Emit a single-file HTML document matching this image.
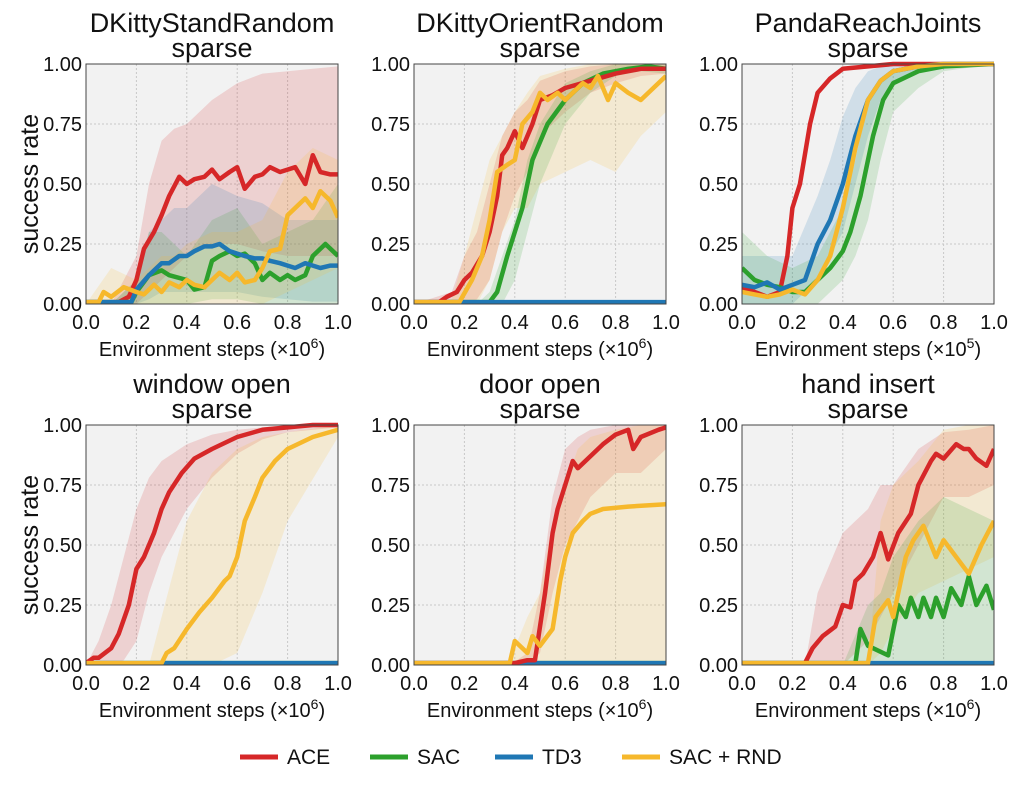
<!DOCTYPE html>
<html><head><meta charset="utf-8"><style>
body{margin:0;background:#fff}
svg text{font-family:"Liberation Sans","DejaVu Sans",sans-serif;fill:#111}
</style></head><body>
<svg id="c" width="1025" height="789" xmlns="http://www.w3.org/2000/svg"></svg>
<script>
const NS="http://www.w3.org/2000/svg";
const COLORS={ACE:"#d62728",SAC:"#2ca02c",TD3:"#1f77b4",RND:"#f6b82c"};
const titles=[["DKittyStandRandom","sparse"],["DKittyOrientRandom","sparse"],["PandaReachJoints","sparse"],["window open","sparse"],["door open","sparse"],["hand insert","sparse"]];
const xlabelExp=["6","6","5","6","6","6"];
const xTicks=[0,0.2,0.4,0.6,0.8,1.0];
const xTickLabels=["0.0","0.2","0.4","0.6","0.8","1.0"];
const yTicks=[0,0.25,0.5,0.75,1.0];
const yTickLabels=["0.00","0.25","0.50","0.75","1.00"];

// panel 1
const p1_ace_x=[0,0.05,0.1,0.13,0.17,0.2,0.23,0.27,0.3,0.33,0.37,0.4,0.43,0.47,0.5,0.53,0.57,0.6,0.63,0.67,0.7,0.73,0.77,0.8,0.83,0.87,0.9,0.93,0.97,1.0];
const p1_ace_y=[0,0,0,0,0.03,0.1,0.23,0.3,0.37,0.45,0.53,0.5,0.52,0.53,0.56,0.52,0.55,0.57,0.48,0.53,0.54,0.57,0.55,0.56,0.57,0.5,0.62,0.55,0.54,0.54];
const p1_sac_x=[0,0.18,0.2,0.25,0.3,0.33,0.4,0.43,0.47,0.5,0.53,0.57,0.6,0.63,0.67,0.7,0.73,0.77,0.8,0.83,0.87,0.9,0.95,1.0];
const p1_sac_y=[0,0,0.05,0.12,0.14,0.12,0.1,0.06,0.07,0.18,0.2,0.22,0.2,0.21,0.17,0.1,0.13,0.1,0.12,0.1,0.12,0.2,0.25,0.2];
const p1_td3_x=[0,0.18,0.2,0.25,0.3,0.33,0.37,0.4,0.43,0.47,0.5,0.53,0.57,0.6,0.63,0.67,0.7,0.73,0.77,0.8,0.83,0.87,0.9,0.93,0.97,1.0];
const p1_td3_y=[0,0,0.06,0.12,0.17,0.17,0.2,0.2,0.22,0.24,0.24,0.25,0.22,0.21,0.2,0.19,0.19,0.18,0.17,0.16,0.15,0.17,0.16,0.15,0.16,0.16];
const p1_rnd_x=[0,0.05,0.07,0.1,0.15,0.2,0.23,0.27,0.3,0.33,0.37,0.4,0.43,0.47,0.5,0.53,0.57,0.6,0.63,0.67,0.7,0.73,0.77,0.8,0.83,0.87,0.9,0.93,0.97,1.0];
const p1_rnd_y=[0,0,0.05,0.03,0.07,0.05,0.04,0.08,0.05,0.09,0.07,0.1,0.08,0.07,0.1,0.13,0.1,0.13,0.09,0.1,0.15,0.22,0.23,0.37,0.4,0.44,0.4,0.47,0.43,0.36];
const p1_bx=[0,0.1,0.2,0.25,0.3,0.35,0.4,0.5,0.6,0.7,0.8,0.9,1.0];
const p1_ace_lo=[0,0,0,0.05,0.1,0.15,0.2,0.25,0.25,0.22,0.2,0.2,0.2];
const p1_ace_hi=[0,0,0.2,0.5,0.68,0.73,0.75,0.85,0.92,0.96,0.97,0.98,0.99];
const p1_td3_lo=[0,0,0,0.02,0.05,0.05,0.05,0.05,0.05,0.03,0.02,0.01,0.01];
const p1_td3_hi=[0,0,0.1,0.3,0.35,0.4,0.4,0.5,0.45,0.42,0.35,0.35,0.35];
const p1_sac_lo=[0,0,0,0,0,0,0,0.02,0.02,0,0,0,0];
const p1_sac_hi=[0,0,0.1,0.3,0.3,0.25,0.2,0.35,0.4,0.25,0.3,0.35,0.5];
const p1_rnd_lo=[0,0,0,0,0,0,0,0,0,0,0.05,0.1,0.15];
const p1_rnd_hi=[0,0.15,0.1,0.15,0.2,0.2,0.25,0.3,0.3,0.35,0.55,0.65,0.6];
// panel 2
const p2_ace_x=[0,0.1,0.13,0.17,0.2,0.23,0.27,0.3,0.33,0.35,0.37,0.4,0.43,0.47,0.5,0.55,0.6,0.7,0.8,0.9,1.0];
const p2_ace_y=[0,0,0.03,0.05,0.1,0.13,0.2,0.3,0.45,0.62,0.65,0.72,0.65,0.75,0.85,0.87,0.9,0.93,0.96,0.98,0.98];
const p2_sac_x=[0,0.3,0.33,0.37,0.43,0.47,0.53,0.6,0.67,0.75,0.85,0.93,1.0];
const p2_sac_y=[0,0,0.05,0.2,0.4,0.6,0.75,0.85,0.92,0.96,0.98,0.99,0.98];
const p2_td3_x=[0,1.0];
const p2_td3_y=[0,0];
const p2_rnd_x=[0,0.18,0.23,0.27,0.3,0.33,0.37,0.4,0.43,0.47,0.5,0.53,0.57,0.6,0.63,0.67,0.7,0.73,0.77,0.8,0.85,0.9,0.95,1.0];
const p2_rnd_y=[0,0,0.1,0.2,0.35,0.55,0.58,0.6,0.75,0.8,0.88,0.85,0.88,0.85,0.88,0.92,0.9,0.95,0.85,0.92,0.88,0.85,0.9,0.95];
const p2_bx=[0,0.15,0.2,0.25,0.3,0.35,0.4,0.45,0.5,0.6,0.7,0.8,0.9,1.0];
const p2_ace_lo=[0,0,0,0.02,0.1,0.3,0.45,0.55,0.7,0.8,0.88,0.92,0.95,0.96];
const p2_ace_hi=[0,0.05,0.2,0.3,0.5,0.7,0.8,0.85,0.93,0.97,0.99,1,1,1];
const p2_rnd_lo=[0,0,0,0,0.1,0.3,0.4,0.4,0.5,0.55,0.6,0.55,0.7,0.8];
const p2_rnd_hi=[0,0.02,0.2,0.4,0.6,0.7,0.8,0.88,0.95,0.98,1,1,1,1];
const p2_sac_lo=[0,0,0,0,0,0,0.1,0.3,0.5,0.75,0.88,0.95,0.97,0.96];
const p2_sac_hi=[0,0,0,0,0.05,0.2,0.35,0.6,0.75,0.92,0.97,1,1,1];
// panel 3
const p3_ace_x=[0,0.05,0.1,0.15,0.18,0.2,0.23,0.27,0.3,0.35,0.4,0.5,0.6,1.0];
const p3_ace_y=[0.07,0.05,0.03,0.05,0.2,0.4,0.5,0.75,0.88,0.94,0.98,0.99,1,1];
const p3_sac_x=[0,0.05,0.1,0.15,0.2,0.25,0.3,0.35,0.4,0.43,0.47,0.52,0.56,0.6,0.7,0.8,1.0];
const p3_sac_y=[0.15,0.1,0.08,0.07,0.05,0.05,0.1,0.15,0.22,0.3,0.45,0.7,0.85,0.92,0.97,0.99,1];
const p3_td3_x=[0,0.05,0.1,0.15,0.2,0.25,0.3,0.35,0.4,0.45,0.5,0.55,0.6,0.7,0.8,1.0];
const p3_td3_y=[0.08,0.07,0.09,0.06,0.08,0.1,0.25,0.35,0.5,0.7,0.85,0.93,0.97,0.99,1,1];
const p3_rnd_x=[0,0.05,0.1,0.15,0.2,0.25,0.3,0.35,0.4,0.45,0.5,0.55,0.6,0.7,0.8,1.0];
const p3_rnd_y=[0.05,0.04,0.03,0.04,0.06,0.04,0.1,0.2,0.4,0.65,0.85,0.93,0.97,0.99,1,1];
const p3_bx=[0,0.1,0.2,0.3,0.35,0.4,0.45,0.5,0.55,0.6,0.7,0.8,1.0];
const p3_td3_lo=[0,0,0,0.1,0.2,0.3,0.5,0.7,0.85,0.92,0.97,0.99,1];
const p3_td3_hi=[0.2,0.2,0.2,0.45,0.6,0.78,0.9,0.97,0.99,1,1,1,1];
const p3_sac_lo=[0,0,0,0,0.05,0.1,0.2,0.35,0.6,0.8,0.9,0.97,1];
const p3_sac_hi=[0.3,0.2,0.15,0.2,0.3,0.4,0.6,0.85,0.93,0.97,1,1,1];
// panel 4
const p4_ace_x=[0,0.03,0.05,0.1,0.13,0.17,0.2,0.23,0.27,0.3,0.33,0.38,0.43,0.5,0.6,0.7,0.8,0.9,1.0];
const p4_ace_y=[0,0.03,0.03,0.07,0.13,0.25,0.4,0.45,0.55,0.65,0.72,0.8,0.86,0.9,0.95,0.98,0.99,1,1];
const p4_rnd_x=[0,0.3,0.32,0.35,0.4,0.45,0.5,0.55,0.57,0.6,0.63,0.67,0.7,0.75,0.8,0.9,1.0];
const p4_rnd_y=[0,0,0.05,0.07,0.15,0.22,0.28,0.35,0.37,0.45,0.6,0.7,0.78,0.85,0.9,0.95,0.98];
const p4_zero_x=[0,1.0];
const p4_zero_y=[0,0];
const p4_bx=[0,0.05,0.1,0.15,0.2,0.25,0.3,0.4,0.5,0.6,0.7,0.8,1.0];
const p4_ace_lo=[0,0,0,0.02,0.1,0.3,0.45,0.65,0.78,0.88,0.94,0.97,0.99];
const p4_ace_hi=[0,0.1,0.25,0.45,0.65,0.78,0.85,0.92,0.96,0.98,0.99,1,1];
const p4_rnd_lo=[0,0,0,0,0,0,0,0,0,0.05,0.3,0.6,0.95];
const p4_rnd_hi=[0,0,0,0,0,0,0.2,0.6,0.8,0.9,0.95,0.97,1];
// panel 5
const p5_ace_x=[0,0.4,0.45,0.48,0.52,0.55,0.57,0.6,0.63,0.65,0.7,0.75,0.8,0.85,0.87,0.9,0.97,1.0];
const p5_ace_y=[0,0,0.02,0.02,0.3,0.55,0.65,0.75,0.85,0.82,0.87,0.92,0.96,0.98,0.9,0.95,0.98,0.99];
const p5_rnd_x=[0,0.38,0.4,0.45,0.47,0.5,0.55,0.58,0.6,0.63,0.67,0.7,0.75,0.85,1.0];
const p5_rnd_y=[0,0,0.1,0.05,0.12,0.08,0.15,0.35,0.45,0.55,0.6,0.63,0.65,0.66,0.67];
const p5_zero_x=[0,1.0];
const p5_zero_y=[0,0];
const p5_bx=[0,0.38,0.45,0.5,0.55,0.6,0.65,0.7,0.8,0.9,1.0];
const p5_ace_lo=[0,0,0,0.05,0.3,0.5,0.6,0.7,0.8,0.8,0.9];
const p5_ace_hi=[0,0,0.05,0.3,0.7,0.9,0.95,0.98,1,1,1];
const p5_rnd_lo=[0,0,0,0,0,0,0,0,0,0,0];
const p5_rnd_hi=[0,0.02,0.2,0.3,0.6,0.75,0.9,0.95,0.98,1,1];
// panel 6
const p6_ace_x=[0,0.25,0.28,0.32,0.37,0.4,0.43,0.45,0.48,0.52,0.55,0.58,0.62,0.67,0.7,0.75,0.77,0.8,0.85,0.88,0.9,0.93,0.97,1.0];
const p6_ace_y=[0,0,0.07,0.12,0.16,0.25,0.24,0.35,0.38,0.45,0.55,0.44,0.55,0.63,0.75,0.85,0.88,0.86,0.92,0.9,0.9,0.86,0.83,0.9];
const p6_sac_x=[0,0.45,0.47,0.5,0.58,0.62,0.65,0.67,0.7,0.72,0.75,0.77,0.8,0.83,0.87,0.9,0.93,0.97,1.0];
const p6_sac_y=[0,0,0.15,0.08,0.04,0.25,0.2,0.28,0.2,0.28,0.2,0.28,0.2,0.32,0.25,0.37,0.25,0.33,0.23];
const p6_rnd_x=[0,0.5,0.53,0.58,0.6,0.65,0.68,0.72,0.77,0.8,0.9,0.95,1.0];
const p6_rnd_y=[0,0,0.2,0.27,0.2,0.45,0.52,0.58,0.45,0.52,0.38,0.5,0.6];
const p6_zero_x=[0,1.0];
const p6_zero_y=[0,0];
const p6_bx=[0,0.25,0.3,0.4,0.5,0.55,0.6,0.7,0.8,0.9,1.0];
const p6_ace_lo=[0,0,0,0,0.1,0.2,0.3,0.5,0.7,0.7,0.75];
const p6_ace_hi=[0,0,0.3,0.55,0.65,0.75,0.75,0.9,0.97,0.98,1];
const p6_rnd_lo=[0,0,0,0,0,0.05,0.15,0.3,0.35,0.4,0.45];
const p6_rnd_hi=[0,0,0,0,0,0.6,0.75,0.85,0.98,1,1];
const p6_sac_lo=[0,0,0,0,0,0,0,0,0,0,0];
const p6_sac_hi=[0,0,0,0,0.25,0.3,0.45,0.6,0.7,0.65,0.6];

const panels=[
 {bands:[[p1_bx,p1_ace_lo,p1_ace_hi,"ACE"],[p1_bx,p1_td3_lo,p1_td3_hi,"TD3"],[p1_bx,p1_sac_lo,p1_sac_hi,"SAC"],[p1_bx,p1_rnd_lo,p1_rnd_hi,"RND"]],
  lines:[[p1_ace_x,p1_ace_y,"ACE"],[p1_sac_x,p1_sac_y,"SAC"],[p1_td3_x,p1_td3_y,"TD3"],[p1_rnd_x,p1_rnd_y,"RND"]]},
 {bands:[[p2_bx,p2_ace_lo,p2_ace_hi,"ACE"],[p2_bx,p2_rnd_lo,p2_rnd_hi,"RND"],[p2_bx,p2_sac_lo,p2_sac_hi,"SAC"]],
  lines:[[p2_sac_x,p2_sac_y,"SAC"],[p2_td3_x,p2_td3_y,"TD3"],[p2_ace_x,p2_ace_y,"ACE"],[p2_rnd_x,p2_rnd_y,"RND"]]},
 {bands:[[p3_bx,p3_td3_lo,p3_td3_hi,"TD3"],[p3_bx,p3_sac_lo,p3_sac_hi,"SAC"]],
  lines:[[p3_ace_x,p3_ace_y,"ACE"],[p3_sac_x,p3_sac_y,"SAC"],[p3_td3_x,p3_td3_y,"TD3"],[p3_rnd_x,p3_rnd_y,"RND"]]},
 {bands:[[p4_bx,p4_ace_lo,p4_ace_hi,"ACE"],[p4_bx,p4_rnd_lo,p4_rnd_hi,"RND"]],
  lines:[[p4_zero_x,p4_zero_y,"SAC"],[p4_zero_x,p4_zero_y,"TD3"],[p4_ace_x,p4_ace_y,"ACE"],[p4_rnd_x,p4_rnd_y,"RND"]]},
 {bands:[[p5_bx,p5_ace_lo,p5_ace_hi,"ACE"],[p5_bx,p5_rnd_lo,p5_rnd_hi,"RND"]],
  lines:[[p5_zero_x,p5_zero_y,"SAC"],[p5_zero_x,p5_zero_y,"TD3"],[p5_ace_x,p5_ace_y,"ACE"],[p5_rnd_x,p5_rnd_y,"RND"]]},
 {bands:[[p6_bx,p6_ace_lo,p6_ace_hi,"ACE"],[p6_bx,p6_rnd_lo,p6_rnd_hi,"RND"],[p6_bx,p6_sac_lo,p6_sac_hi,"SAC"]],
  lines:[[p6_zero_x,p6_zero_y,"TD3"],[p6_ace_x,p6_ace_y,"ACE"],[p6_sac_x,p6_sac_y,"SAC"],[p6_rnd_x,p6_rnd_y,"RND"]]}
];
const svg=document.getElementById('c');
function mk(tag,attrs,parent){const e=document.createElementNS(NS,tag);for(const k in attrs)e.setAttribute(k,attrs[k]);(parent||svg).appendChild(e);return e;}
const colsX=[86,414,742], rowsY=[64,425], W=252, H=240;
const seriesName={ACE:"ace",SAC:"sac",TD3:"td3",RND:"sac-rnd"};
panels.forEach((p,i)=>{
  const x0=colsX[i%3], y0=rowsY[Math.floor(i/3)];
  const sx=v=>x0+v*W, sy=v=>y0+H-v*H;
  const g=mk('g',{});
  
  
  const bg=mk('rect',{x:x0,y:y0,width:W,height:H,fill:'#f2f2f2'},g);
  
  
  xTicks.forEach((t,k)=>{
    if(k>0&&k<xTicks.length-1) mk('line',{x1:sx(t),x2:sx(t),y1:y0,y2:y0+H,stroke:'#c8c8c8','stroke-dasharray':'2,2','stroke-width':1},g);
    const tx=mk('text',{x:sx(t),y:y0+H+25,'font-size':20,'text-anchor':'middle'},g);
    tx.textContent=xTickLabels[k];
    
    
  });
  yTicks.forEach((t,k)=>{
    if(k>0&&k<yTicks.length-1) mk('line',{x1:x0,x2:x0+W,y1:sy(t),y2:sy(t),stroke:'#c8c8c8','stroke-dasharray':'2,2','stroke-width':1},g);
    const tx=mk('text',{x:x0-4,y:sy(t)+7,'font-size':20,'text-anchor':'end'},g);
    tx.textContent=yTickLabels[k];
    
    
  });
  const clip=mk('clipPath',{id:'cl'+i},g);
  mk('rect',{x:x0,y:y0-3,width:W,height:H+3},clip);
  const pg=mk('g',{'clip-path':'url(#cl'+i+')'},g);
  p.bands.forEach(b=>{
    const [bx,lo,hi,s]=b;
    let d='M'+bx.map((v,k)=>sx(v)+','+sy(hi[k])).join('L');
    for(let k=bx.length-1;k>=0;k--) d+='L'+sx(bx[k])+','+sy(lo[k]);
    const e=mk('path',{d:d+'Z',fill:COLORS[s],'fill-opacity':0.16,stroke:'none'},pg);
    
    
  });
  p.lines.forEach(l=>{
    const [xs,ys,s]=l;
    const d='M'+xs.map((v,k)=>sx(v)+','+sy(Math.max(ys[k],0.008))).join('L');
    const e=mk('path',{d:d,fill:'none',stroke:COLORS[s],'stroke-width':4.5,'stroke-linejoin':'round'},pg);
    
    
  });
  const fr=mk('rect',{x:x0,y:y0,width:W,height:H,fill:'none',stroke:'#444','stroke-width':1},g);
  
  
  const t1=mk('text',{x:x0+W/2,y:y0-32,'font-size':27,'text-anchor':'middle'},g);
  t1.textContent=titles[i][0];
  
  
  const t2=mk('text',{x:x0+W/2,y:y0-7,'font-size':27,'text-anchor':'middle'},g);
  t2.textContent=titles[i][1];
  
  
  const xl=mk('text',{x:x0+W/2,y:y0+H+52,'font-size':20,'text-anchor':'middle'},g);
  xl.innerHTML='Environment steps (×10<tspan font-size="14" dy="-8">'+xlabelExp[i]+'</tspan><tspan dy="8">)</tspan>';
  
  
  if(i%3===0){
    const yl=mk('text',{x:0,y:0,'font-size':25,'text-anchor':'middle',transform:'translate(38,'+(y0+H/2)+') rotate(-90)'},g);
    yl.textContent='success rate';
    
    
  }
});
const legend=[["ACE","ACE",240],["SAC","SAC",370],["TD3","TD3",495],["RND","SAC + RND",622]];
const lg=mk('g',{});


legend.forEach(L=>{
  const g=mk('g',{},lg);
  
  
  mk('line',{x1:L[2],x2:L[2]+38,y1:757,y2:757,stroke:COLORS[L[0]],'stroke-width':5},g);
  const t=mk('text',{x:L[2]+47,y:764,'font-size':21},g);
  t.textContent=L[1];
});
</script>
</body></html>
